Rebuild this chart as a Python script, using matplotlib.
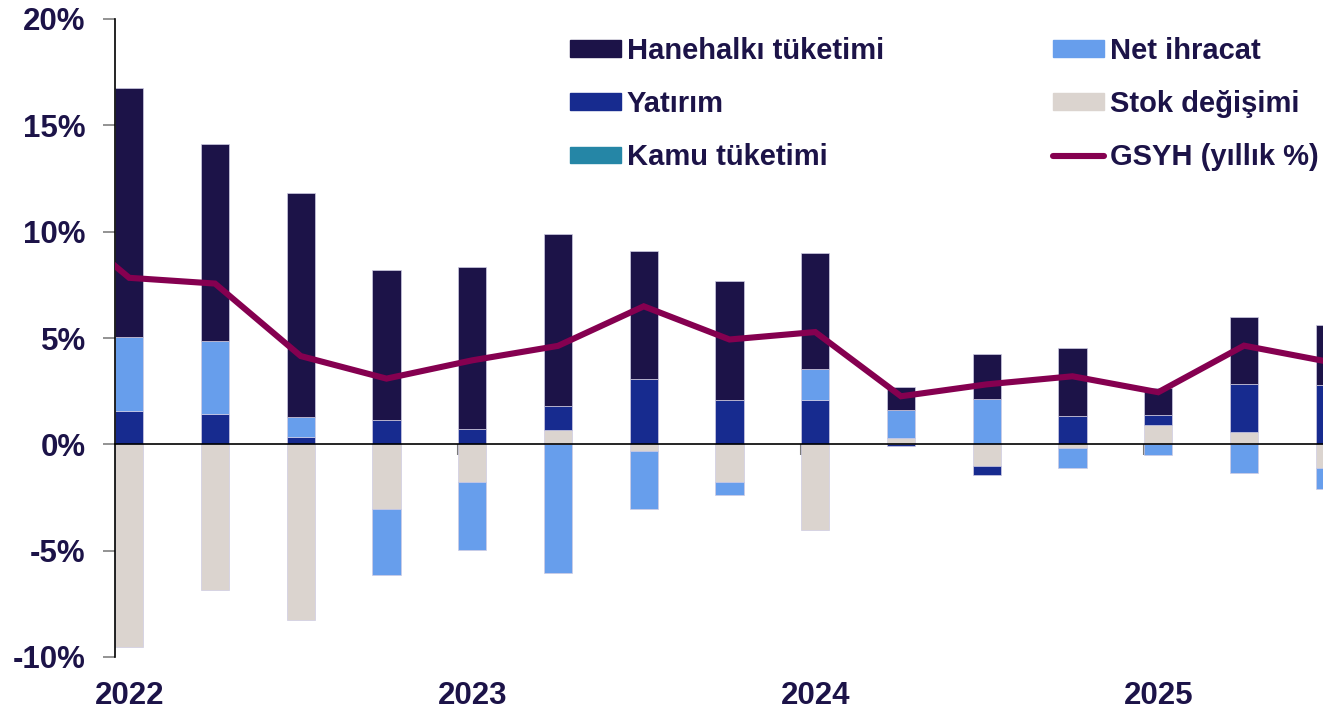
import numpy as np
import matplotlib
matplotlib.use('Agg')
from matplotlib import pyplot as plt
from matplotlib.patches import Patch
from matplotlib.lines import Line2D

plt.rcParams['font.family'] = ['Liberation Sans', 'DejaVu Sans']

# 2022Q1 .. 2025Q3, katkilar (puan)
quarters = ['2022Q1', '2022Q2', '2022Q3', '2022Q4', '2023Q1', '2023Q2', '2023Q3', '2023Q4',
            '2024Q1', '2024Q2', '2024Q3', '2024Q4', '2025Q1', '2025Q2', '2025Q3']
hanehalki = [11.71, 9.28, 10.54, 7.03, 7.61, 8.05, 5.99, 5.59, 5.46, 1.07, 2.12, 3.21, 1.25, 3.13, 2.85]
yatirim = [1.55, 1.44, 0.33, 1.16, 0.74, 1.13, 3.09, 2.10, 2.07, -0.09, -0.44, 1.32, 0.47, 2.28, 2.78]
kamu = [0.0] * 15
net_ihracat = [3.49, 3.41, 0.96, -3.10, -3.22, -6.04, -2.70, -0.59, 1.47, 1.33, 2.15, -0.94, -0.49, -1.33, -0.99]
stok = [-9.54, -6.84, -8.28, -3.03, -1.77, 0.69, -0.33, -1.79, -4.05, 0.30, -1.00, -0.16, 0.93, 0.58, -1.13]
# GSYH, 2021Q4'ten baslar
gsyh = [11.2, 7.83, 7.56, 4.15, 3.09, 3.95, 4.63, 6.49, 4.93, 5.28, 2.26, 2.82, 3.20, 2.45, 4.64, 3.87]
years = ['2022', '2023', '2024', '2025']

navy = '#1c1348'
c_hane = '#1c1348'
c_yat = '#172b8f'
c_kamu = '#2586a6'
c_net = '#679eec'
c_stok = '#dbd4cf'
c_gsyh = '#850050'

x = np.arange(len(quarters))
w = 0.332

fig = plt.figure(figsize=(13.23, 7.13), dpi=100)
ax = fig.add_axes([115 / 1323, 1 - 657 / 713, 1 - 115 / 1323, (657 - 19) / 713])

# yigma sirasi: stok, yatirim, net ihracat, kamu, hanehalki
pos = np.zeros(len(x))
neg = np.zeros(len(x))
for vals, col in [(stok, c_stok), (yatirim, c_yat), (net_ihracat, c_net), (kamu, c_kamu), (hanehalki, c_hane)]:
    v = np.array(vals)
    bot = np.where(v >= 0, pos, neg)
    ax.bar(x, v, w, bottom=bot, color=col, edgecolor='#cfcce3', linewidth=0.5, zorder=2)
    pos = pos + np.where(v >= 0, v, 0)
    neg = neg + np.where(v < 0, v, 0)

gx = np.arange(-1, len(quarters))
ax.plot(gx, gsyh, color=c_gsyh, lw=4.4, solid_joinstyle='miter', zorder=3)

ax.set_xlim(-w / 2, (1323 - 129.25) / 85.75)
ax.set_ylim(-10, 20)

ax.spines['top'].set_visible(False)
ax.spines['right'].set_visible(False)
ax.spines['bottom'].set_position(('data', 0))
ax.spines['bottom'].set_linewidth(1.2)
ax.spines['left'].set_linewidth(1.2)
ax.spines['bottom'].set_zorder(4)

ax.set_xticks(np.array([4, 8, 12]) - w / 2, ['', '', ''])
ax.tick_params(axis='x', direction='out', length=8, width=1.5, color='#7a7a7a')

yt = [-10, -5, 0, 5, 10, 15, 20]
ax.set_yticks(yt, [f'{v}%' for v in yt], fontweight='bold')
ax.tick_params(axis='y', direction='out', length=9, width=1.2, color='#808080',
               pad=12, labelsize=22.5, labelcolor=navy)

sec = ax.secondary_xaxis('bottom')
sec.set_xticks([0, 4, 8, 12], years, fontweight='bold')
sec.tick_params(length=0, pad=17, labelsize=22.5, labelcolor=navy)
sec.spines['bottom'].set_visible(False)

handles = [Patch(color=c_hane), Patch(color=c_yat), Patch(color=c_kamu),
           Patch(color=c_net), Patch(color=c_stok),
           Line2D([], [], color=c_gsyh, lw=4.4, solid_capstyle='round')]
labels = ['Hanehalkı tüketimi', 'Yatırım', 'Kamu tüketimi',
          'Net ihracat', 'Stok değişimi', 'GSYH (yıllık %)']
fig.legend(handles, labels, loc='upper left', bbox_to_anchor=(570 / 1323, 1 - 37 / 713),
           ncol=2, frameon=False, borderpad=0, borderaxespad=0,
           handlelength=1.75, handleheight=0.5, handletextpad=0.2,
           columnspacing=5.8, labelspacing=0.86, labelcolor=navy,
           prop={'size': 21, 'weight': 'bold'})

fig.savefig('out.png', dpi=100)
